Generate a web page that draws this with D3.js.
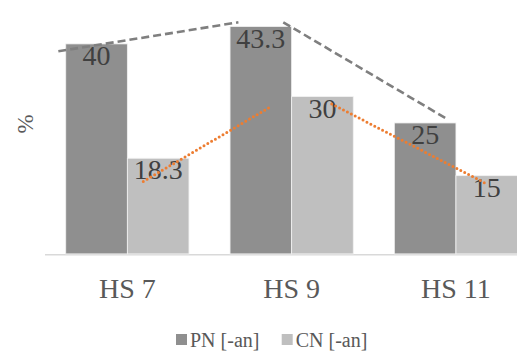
<!DOCTYPE html>
<html>
<head>
<meta charset="utf-8">
<script src="https://cdn.jsdelivr.net/npm/d3@7"></script>
<style>
  html, body { margin: 0; padding: 0; background: #fff; }
  svg { display: block; }
</style>
</head>
<body>
<svg id="chart" width="517" height="351"></svg>
<script>
// Categories and series
const categories = ["HS 7", "HS 9", "HS 11"];
const seriesNames = ["PN [-an]", "CN [-an]"];
const pnValues = [40, 43.3, 25];
const cnValues = [18.3, 30, 15];
const seriesColors = ["#8f8f8f", "#bfbfbf"];

// Trend strokes: x in category-position units (0 = HS 7, 1 = HS 9, 2 = HS 11), y in %
const pnTrend = [
  [{x: -0.420, y: 38.6}, {x: 0.676, y: 44.1}],
  [{x: 0.949, y: 44.1}, {x: 1.954, y: 25.6}]
];
const cnTrend = [
  [{x: 0.097, y: 13.9}, {x: 0.873, y: 28.1}],
  [{x: 1.244, y: 28.6}, {x: 2.177, y: 13.6}]
];

const yAxisTitle = "%";
const serif = '"Liberation Serif", monospace';

const svg = d3.select("#chart");

const baseY = 254.7;
const y = d3.scaleLinear().domain([0, 50]).range([baseY, -8.8]);

const x0 = d3.scaleBand()
  .domain(categories)
  .range([45.2, 538.1])
  .paddingInner(0.25)
  .paddingOuter(0.125);

const x1 = d3.scaleBand()
  .domain(seriesNames)
  .range([0, x0.bandwidth()]);

// continuous position across category centres
const xPos = d3.scaleLinear()
  .domain([0, categories.length - 1])
  .range([x0(categories[0]) + x0.bandwidth() / 2,
          x0(categories[categories.length - 1]) + x0.bandwidth() / 2]);

const rows = categories.map((c, i) => ({
  cat: c,
  vals: [
    {name: seriesNames[0], v: pnValues[i], color: seriesColors[0]},
    {name: seriesNames[1], v: cnValues[i], color: seriesColors[1]}
  ]
}));

// Baseline
svg.append("line")
  .attr("x1", 45).attr("x2", 517)
  .attr("y1", baseY).attr("y2", baseY)
  .attr("stroke", "#d9d9d9")
  .attr("stroke-width", 1.6);

// Bars
const groups = svg.selectAll("g.cat")
  .data(rows)
  .join("g")
  .attr("class", "cat")
  .attr("transform", d => `translate(${x0(d.cat)},0)`);

groups.selectAll("rect")
  .data(d => d.vals)
  .join("rect")
  .attr("x", d => x1(d.name))
  .attr("width", x1.bandwidth())
  .attr("y", d => y(d.v))
  .attr("height", d => y(0) - y(d.v) - 0.8)
  .attr("fill", d => d.color)
  .attr("stroke", "#f2f2f2")
  .attr("stroke-width", 0.8);

// Value labels
groups.selectAll("text.val")
  .data(d => d.vals)
  .join("text")
  .attr("class", "val")
  .attr("x", d => x1(d.name) + x1.bandwidth() / 2)
  .attr("y", d => y(d.v) + 21)
  .attr("text-anchor", "middle")
  .style("font-family", serif)
  .style("font-size", "28px")
  .attr("fill", "#404040")
  .text(d => d.v);

// Trend strokes
const line = d3.line().x(d => xPos(d.x)).y(d => y(d.y));

svg.selectAll("path.pn-trend")
  .data(pnTrend)
  .join("path")
  .attr("class", "pn-trend")
  .attr("d", line)
  .attr("fill", "none")
  .attr("stroke", "#7f7f7f")
  .attr("stroke-width", 2.6)
  .attr("stroke-dasharray", "8,4");

svg.selectAll("path.cn-trend")
  .data(cnTrend)
  .join("path")
  .attr("class", "cn-trend")
  .attr("d", line)
  .attr("fill", "none")
  .attr("stroke", "#ed7d31")
  .attr("stroke-width", 3)
  .attr("stroke-linecap", "round")
  .attr("stroke-dasharray", "0,4.4");

// Category labels
svg.selectAll("text.cat")
  .data(categories)
  .join("text")
  .attr("class", "cat")
  .attr("x", d => x0(d) + x0.bandwidth() / 2)
  .attr("y", 298.3)
  .attr("text-anchor", "middle")
  .style("font-family", serif)
  .style("font-size", "28px")
  .attr("fill", "#595959")
  .text(d => d);

// Axis title
svg.append("text")
  .attr("transform", "translate(33,124) rotate(-90)")
  .attr("text-anchor", "middle")
  .style("font-family", serif)
  .style("font-size", "23px")
  .attr("fill", "#595959")
  .text(yAxisTitle);

// Legend
const legendX = [176, 281.7];
const legend = svg.selectAll("g.legend")
  .data(seriesNames)
  .join("g")
  .attr("class", "legend")
  .attr("transform", (d, i) => `translate(${legendX[i]},0)`);

legend.append("rect")
  .attr("x", 0).attr("y", 334)
  .attr("width", 11).attr("height", 11)
  .attr("fill", (d, i) => seriesColors[i]);

legend.append("text")
  .attr("x", 14)
  .attr("y", 346.7)
  .style("font-family", serif)
  .style("font-size", "20px")
  .attr("fill", "#595959")
  .text(d => d);
</script>
</body>
</html>
